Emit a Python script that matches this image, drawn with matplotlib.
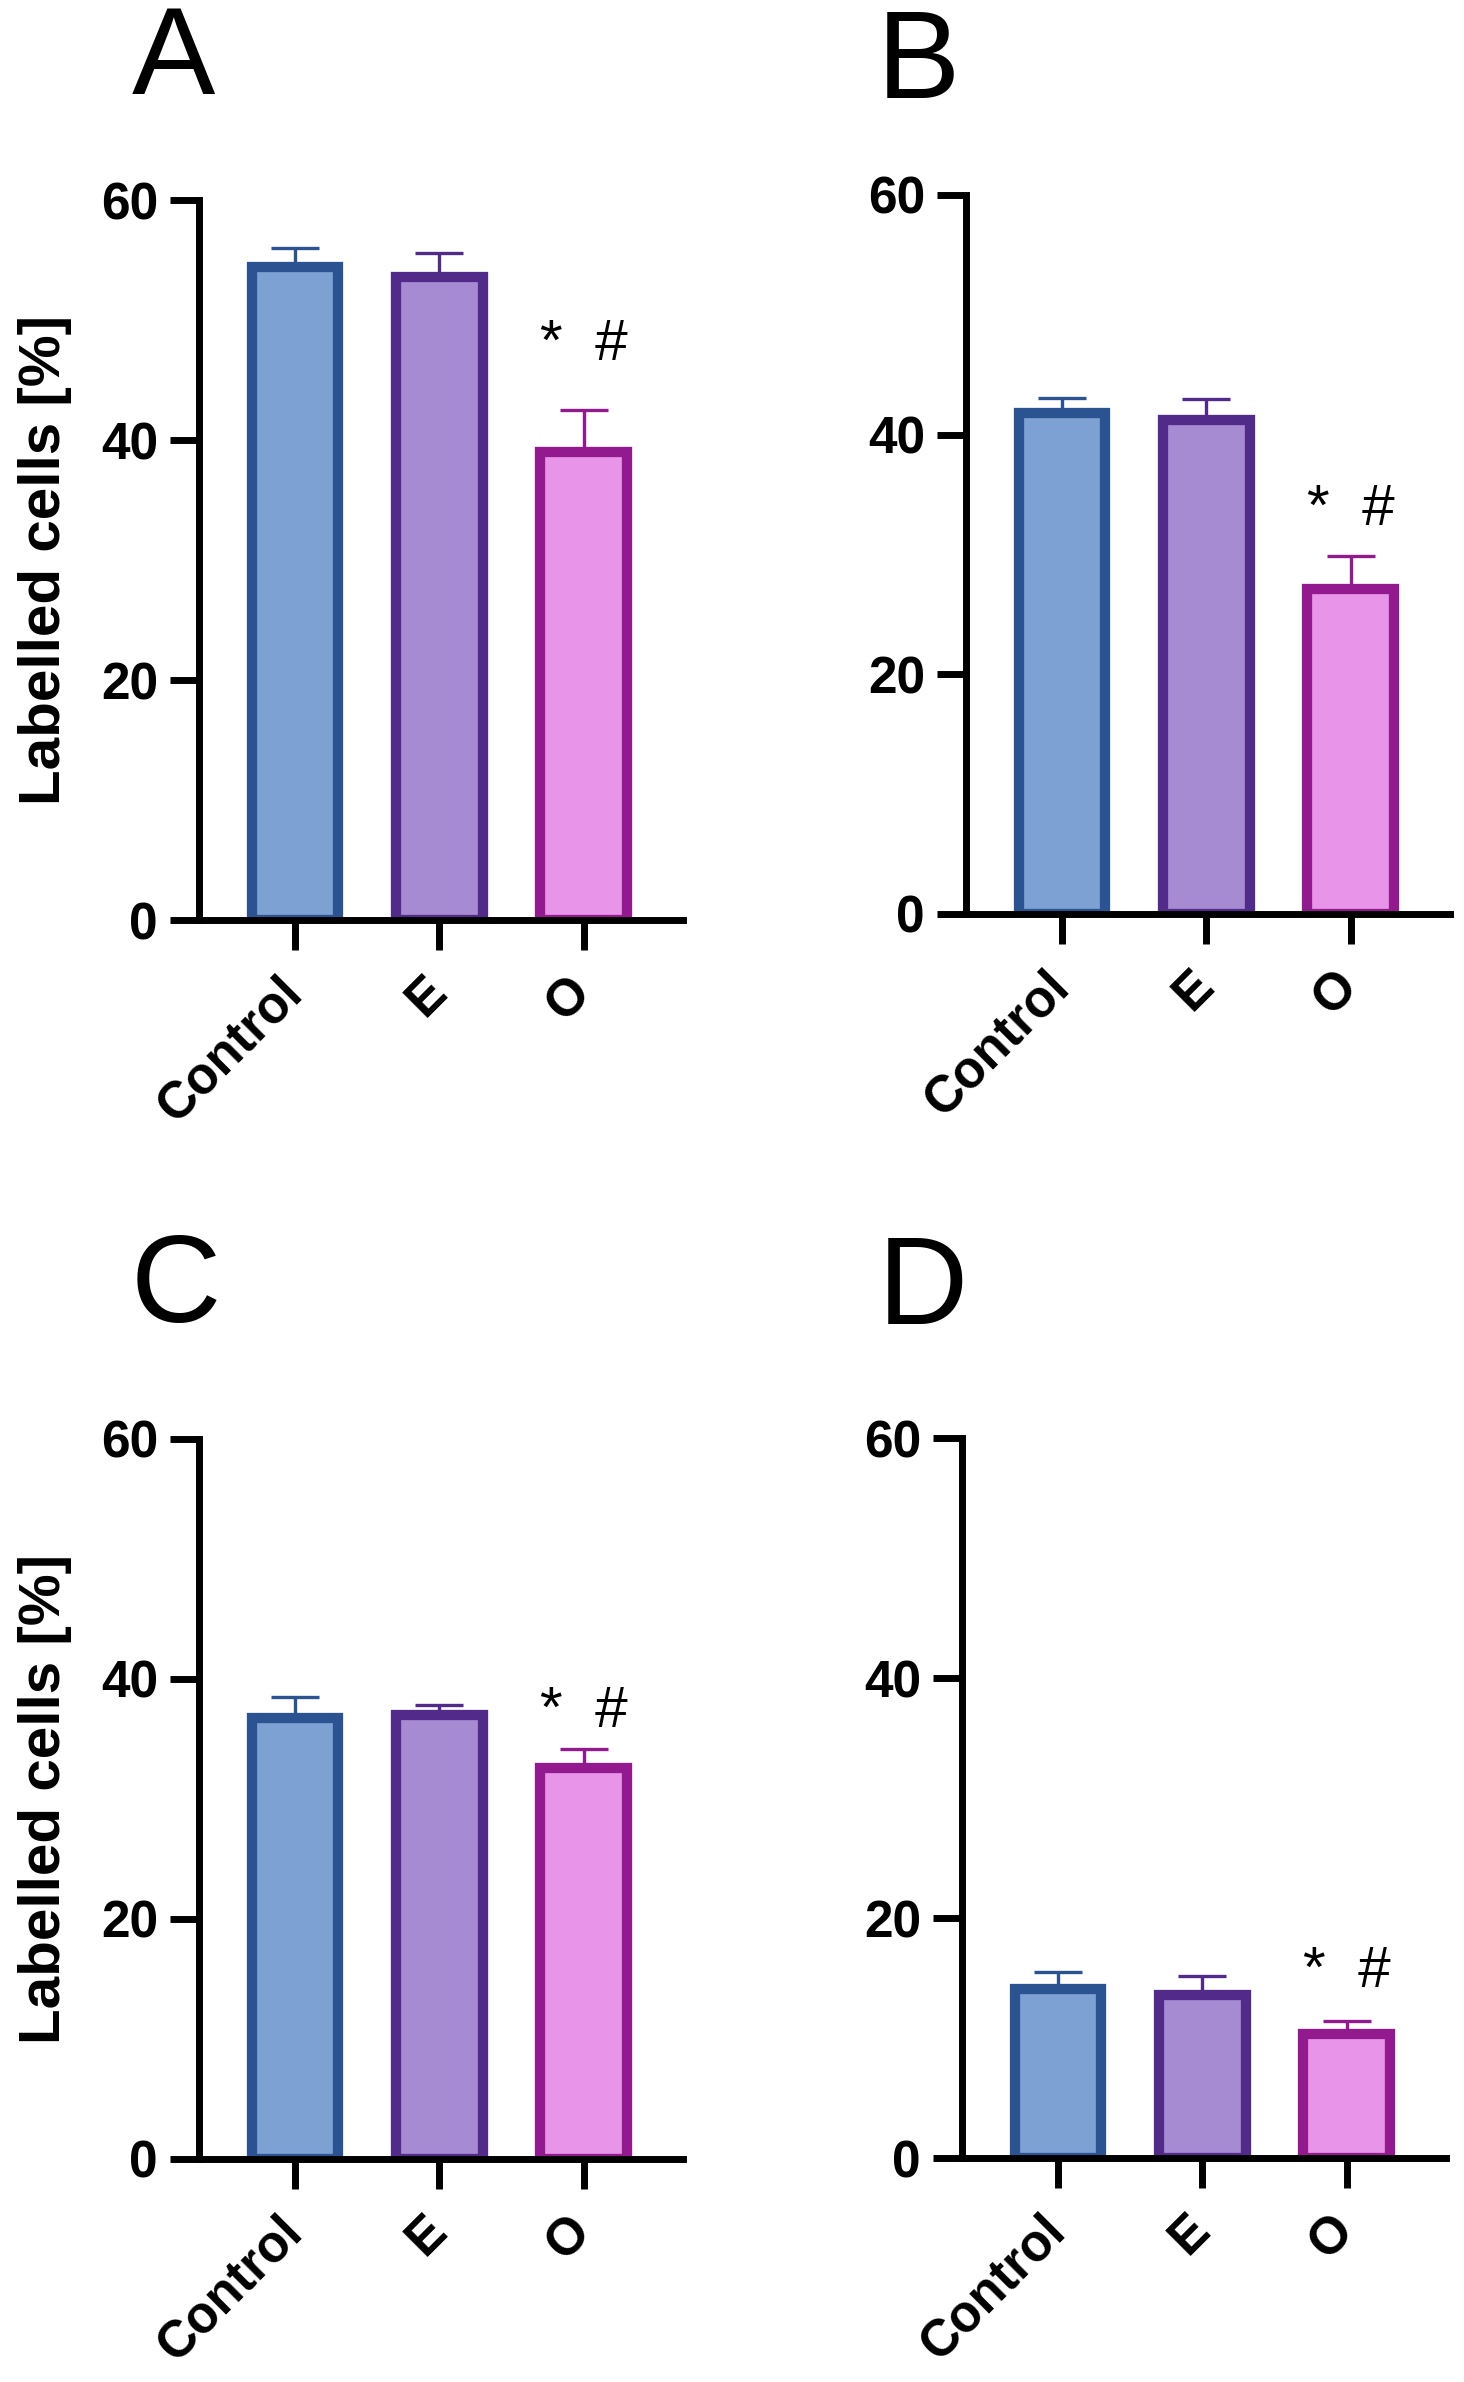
import numpy as np
import matplotlib
matplotlib.use("Agg")
import matplotlib.pyplot as plt

plt.rcParams['font.family'] = ['Liberation Sans', 'DejaVu Sans']

groups = ["Control", "E", "O"]
fill_colors = ["#7ea1d3", "#a68bd2", "#e894e8"]
edge_colors = ["#2b5391", "#512a8a", "#921a8e"]

a_mean = [54.4, 53.6, 39.0]
a_err = [1.6, 2.0, 3.5]
b_mean = [41.8, 41.2, 27.1]
b_err = [1.3, 1.8, 2.8]
c_mean = [36.75, 37.0, 32.6]
c_err = [1.75, 0.8, 1.6]
d_mean = [14.1, 13.6, 10.3]
d_err = [1.4, 1.6, 1.1]

panel_letters = ["A", "B", "C", "D"]
sig_label = "*  #"
sig_y = [46.7, 32.5, 36.0, 14.25]
y_ticks = [0, 20, 40, 60]
y_label = "Labelled cells [%]"

W, H = 1464, 2382
fig = plt.figure(figsize=(W / 100, H / 100), dpi=100)


def px_axes(left, bottom, top, width=484):
    # pixel box -> figure fraction
    return [left / W, 1 - bottom / H, width / W, (bottom - top) / H]


boxes = [px_axes(199, 920, 200), px_axes(966, 914, 195),
         px_axes(199, 2159, 1439), px_axes(962, 2158, 1438)]
letter_pos = [(173, 62), (918, 66), (176, 1290), (923, 1292)]
panels = [(a_mean, a_err), (b_mean, b_err), (c_mean, c_err), (d_mean, d_err)]

x = np.arange(len(groups))

for i, (box, (mean, err)) in enumerate(zip(boxes, panels)):
    ax = fig.add_axes(box)
    for j in range(len(groups)):
        ax.errorbar(x[j], mean[j], yerr=[[0], [err[j]]], fmt='none',
                    ecolor=edge_colors[j], elinewidth=2.4, capsize=17,
                    capthick=2.4, zorder=1.5)
        ax.bar(x[j], mean[j], width=0.6, color=fill_colors[j],
               edgecolor=edge_colors[j], linewidth=7.4, zorder=2)

    ax.text(x[2], sig_y[i], sig_label, ha='center', va='baseline',
            fontsize=42)

    ax.set_xlim(-0.667, 2.69)
    ax.set_ylim(0, 60)
    ax.set_yticks(y_ticks)
    ax.set_xticks(x)
    ax.set_xticklabels(groups)
    for s in ['top', 'right']:
        ax.spines[s].set_visible(False)
    for s in ['left', 'bottom']:
        ax.spines[s].set_linewidth(5)
        ax.spines[s].set_zorder(3)
    ax.tick_params(axis='y', length=21, width=5, pad=8.6, labelsize=37)
    ax.tick_params(axis='x', length=21.6, width=5, pad=25, labelsize=37)
    for lab in ax.get_yticklabels() + ax.get_xticklabels():
        lab.set_fontweight('bold')
    plt.setp(ax.get_xticklabels(), rotation=45, ha='right', va='center',
             rotation_mode='anchor')

    if i in (0, 2):
        ax.set_ylabel(y_label, fontsize=42, fontweight='bold', va='center')
        ax.yaxis.set_label_coords((45 - 199) / 484, 0.5)

    lx, ly = letter_pos[i]
    fig.text(lx / W, 1 - ly / H, panel_letters[i], fontsize=90,
             ha='center', va='center')

fig.savefig("out.png", dpi=100)
